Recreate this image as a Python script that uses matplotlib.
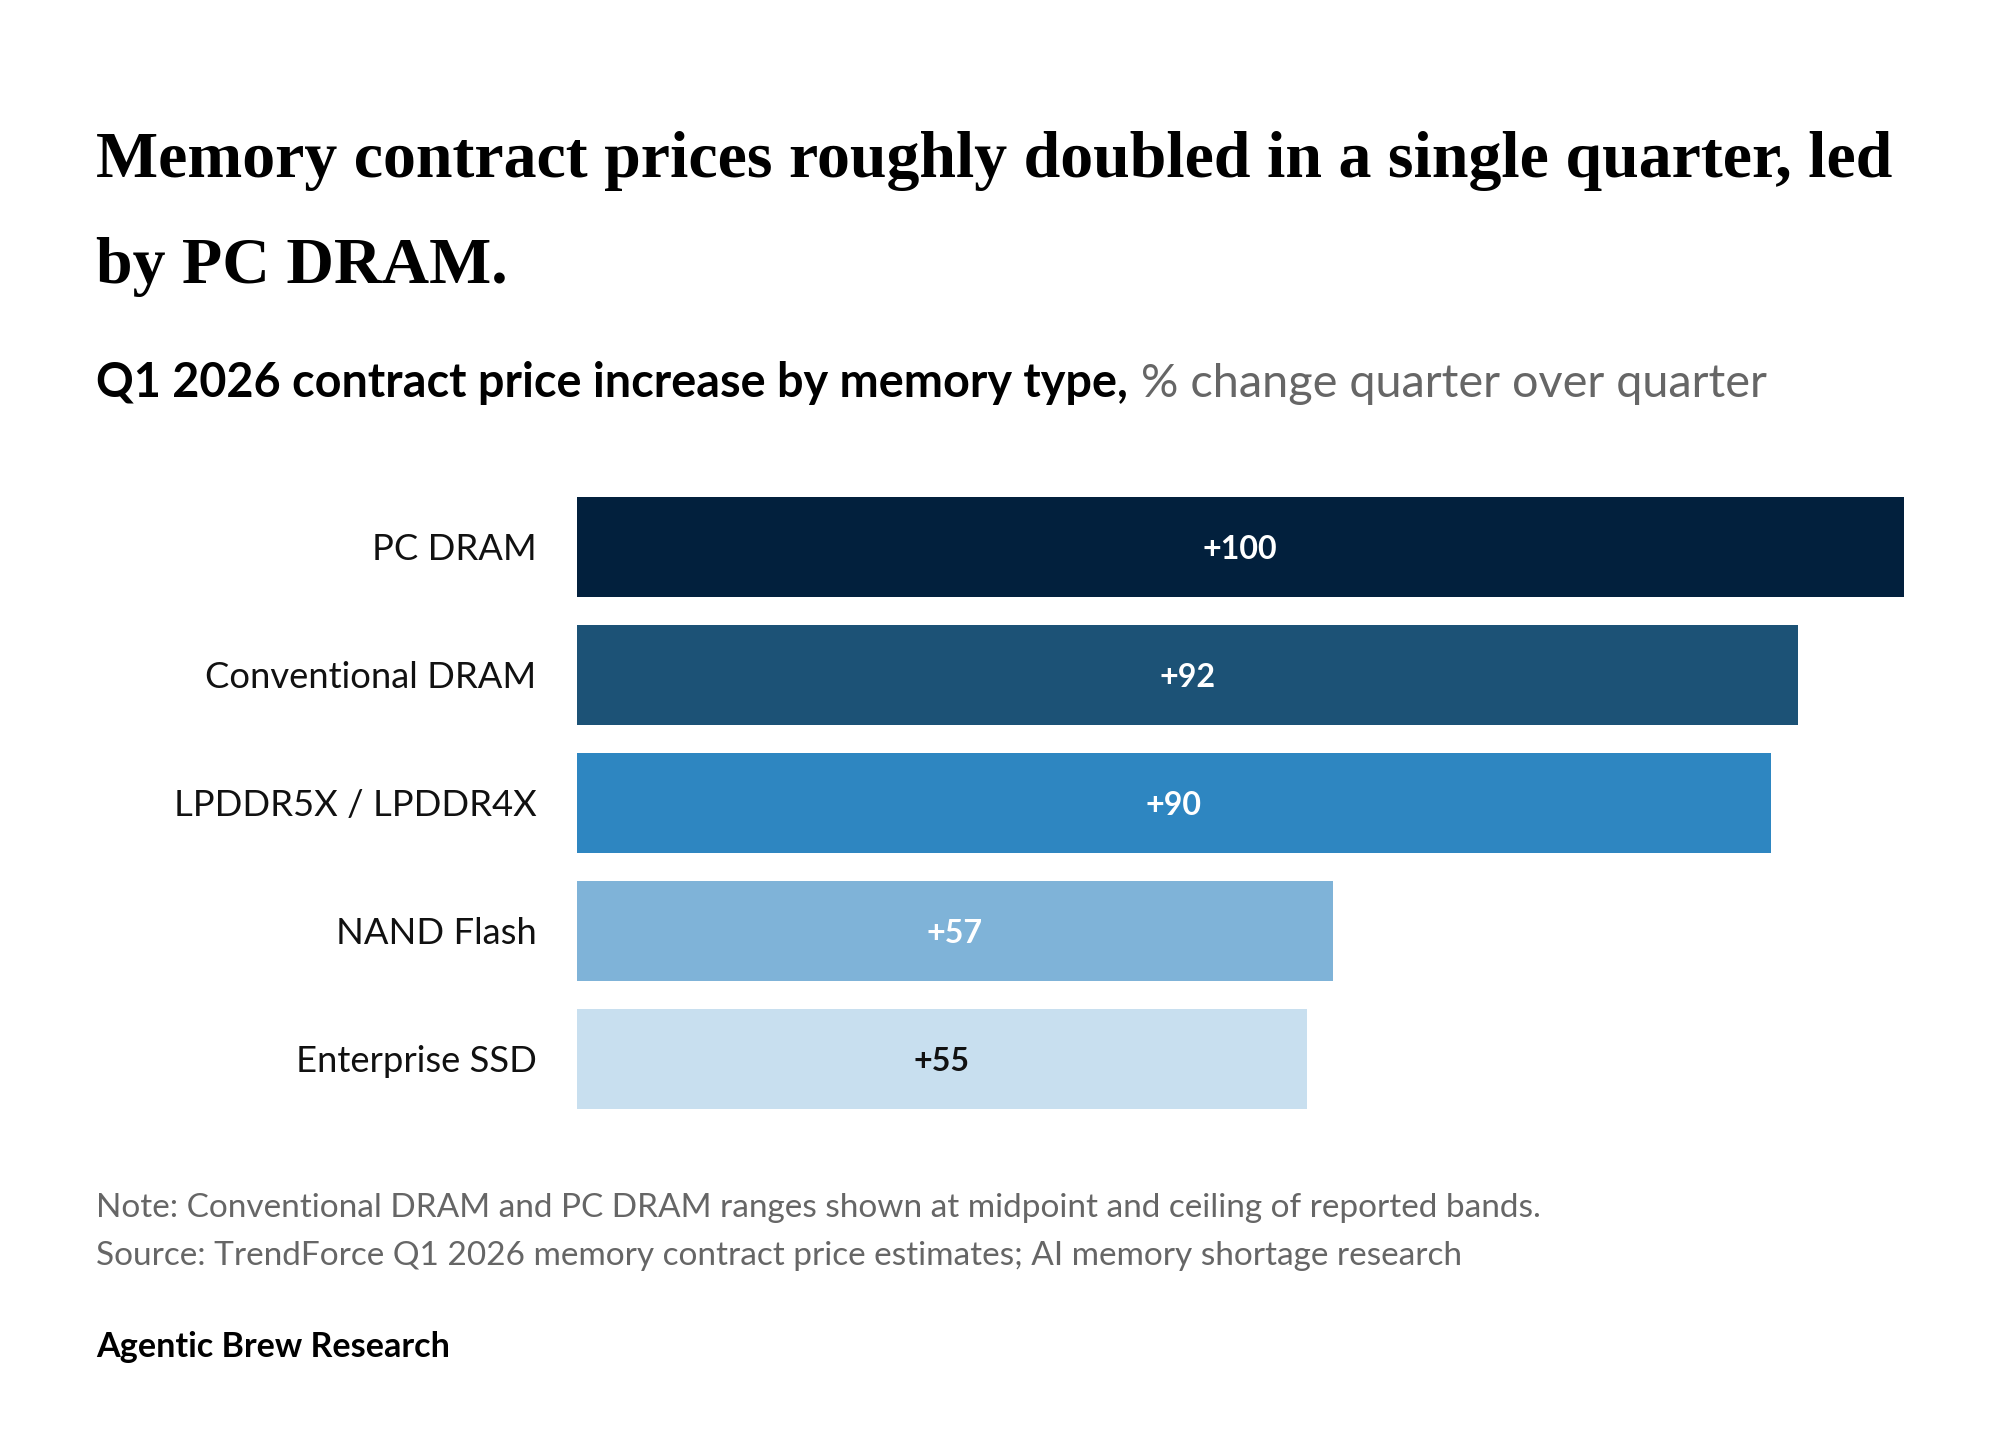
import matplotlib
matplotlib.use("Agg")
import matplotlib.pyplot as plt

# --- data ---
categories = ["PC DRAM", "Conventional DRAM", "LPDDR5X / LPDDR4X", "NAND Flash", "Enterprise SSD"]
increase = [100, 92, 90, 57, 55]
bar_colors = ["#02203d", "#1c5276", "#2e86c1", "#7fb3d8", "#c8dfef"]
label_colors = ["white", "white", "white", "white", "#111111"]

title_lines = ["Memory contract prices roughly doubled in a single quarter, led",
               "by PC DRAM."]
subtitle_bold = "Q1 2026 contract price increase by memory type,"
subtitle_rest = "% change quarter over quarter"
note = "Note: Conventional DRAM and PC DRAM ranges shown at midpoint and ceiling of reported bands."
source = "Source: TrendForce Q1 2026 memory contract price estimates; AI memory shortage research"
brand = "Agentic Brew Research"

W, H = 2000, 1438
SANS = "Lato"
SERIF = "Liberation Serif"

fig = plt.figure(figsize=(W / 100, H / 100), dpi=100)
fig.patch.set_facecolor("white")
renderer = fig.canvas.get_renderer()


def fy(px):
    return 1 - px / H


def fit(txt, width_px):
    bb = txt.get_window_extent(renderer)
    txt.set_fontsize(txt.get_fontsize() * width_px / bb.width)
    return txt


# --- headline ---
t1 = fig.text(96 / W, fy(177), title_lines[0], family=SERIF, weight="bold", size=60,
              color="#000000", va="baseline", ha="left")
fit(t1, 1798)
t2 = fig.text(96 / W, fy(283), title_lines[1], family=SERIF, weight="bold",
              size=t1.get_fontsize(), color="#000000", va="baseline", ha="left")

# --- subtitle ---
s1 = fig.text(96 / W, fy(397), subtitle_bold, family=SANS, weight="bold", size=28,
              color="#000000", va="baseline", ha="left")
fit(s1, 1030)
bb = s1.get_window_extent(renderer)
s2 = fig.text((bb.x1 + 13) / W, fy(397), subtitle_rest, family=SANS, size=s1.get_fontsize(),
              color="#666666", va="baseline", ha="left")

# --- bars ---
ax = fig.add_axes([576.5 / W, fy(1123), (1904 - 576.5) / W, (1123 - 483) / H])
ypos = list(range(len(categories)))
ax.barh(ypos, increase, height=0.78, color=bar_colors, linewidth=0)
ax.set_xlim(0, 100)
ax.set_ylim(len(categories) - 0.5, -0.5)
ax.axis("off")

cat_texts = []
for y, c in zip(ypos, categories):
    cat_texts.append(ax.text(-3.0, y, c, family=SANS, size=25, color="#111111",
                             ha="right", va="center_baseline"))
scale = 331 / cat_texts[1].get_window_extent(renderer).width
for t in cat_texts:
    t.set_fontsize(t.get_fontsize() * scale)

val_texts = []
for y, v, col in zip(ypos, increase, label_colors):
    val_texts.append(ax.text(v / 2, y, f"+{v}", family=SANS, weight="bold", size=25,
                             color=col, ha="center", va="center_baseline"))
scale = 75 / val_texts[0].get_window_extent(renderer).width
for t in val_texts:
    t.set_fontsize(t.get_fontsize() * scale)

# --- footer ---
n = fig.text(96 / W, fy(1217), note, family=SANS, size=18, color="#666666",
             va="baseline", ha="left")
fit(n, 1441)
s = fig.text(96 / W, fy(1265), source, family=SANS, size=n.get_fontsize(), color="#666666",
             va="baseline", ha="left")
b = fig.text(96 / W, fy(1357), brand, family=SANS, weight="bold", size=20, color="#000000",
             va="baseline", ha="left")
fit(b, 354)

fig.savefig("out.png", dpi=100, facecolor="white")
